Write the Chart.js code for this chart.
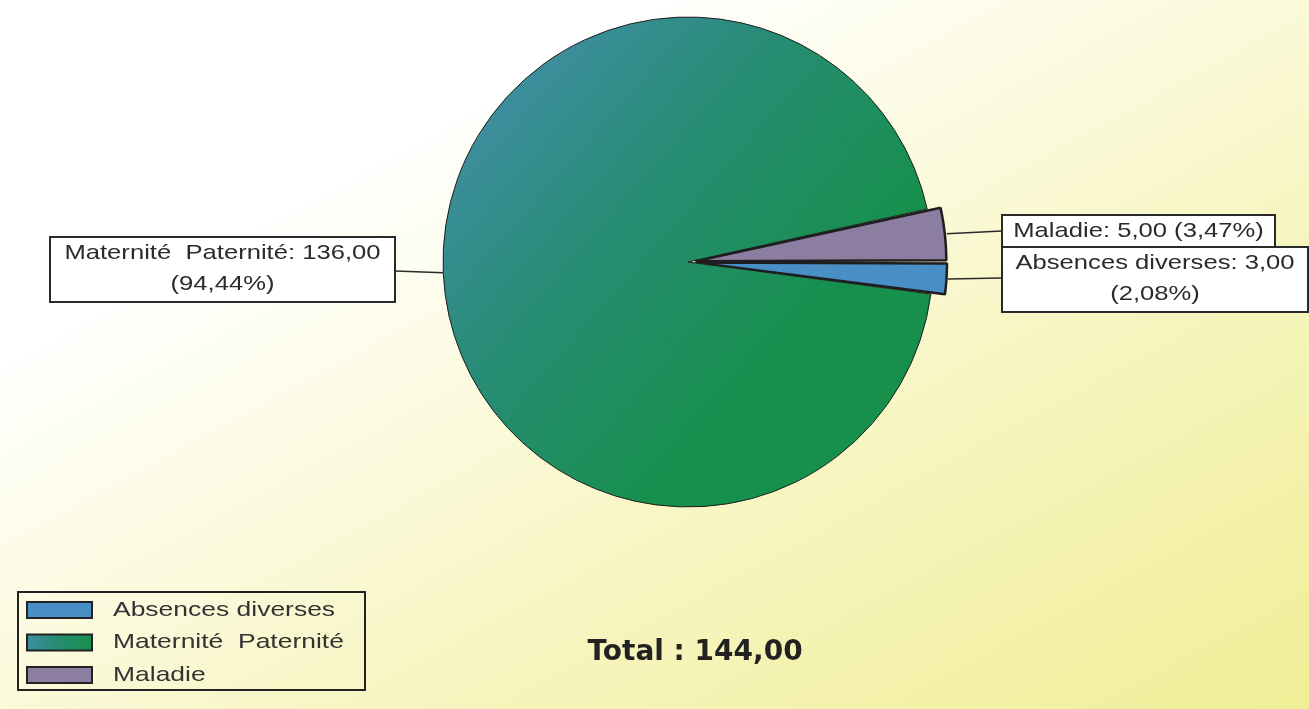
<!DOCTYPE html>
<html>
<head>
<meta charset="utf-8">
<script src="https://cdn.jsdelivr.net/npm/chart.js@4.4.0/dist/chart.umd.min.js"></script>
<style>
  html, body {
    margin: 0;
    padding: 0;
    width: 1309px;
    height: 709px;
    overflow: hidden;
    background: linear-gradient(to bottom right, #ffffff 0%, #ffffff 25%, #fbfadc 48%, #f7f5c0 65%, #f3f1a8 85%, #f0ee96 100%);
  }
  canvas { display: block; }
</style>
</head>
<body>
<canvas id="chart" width="1309" height="709"></canvas>
<script>
// data
const categories = ["Absences diverses", "Maternité  Paternité", "Maladie"];
const values = [3, 136, 5];
const sliceColors = ["#4a8ec6", null, "#8c7ea0"]; // null = gradient (teal -> green)

// text is a bit stretched horizontally in the original
const stretch = 1.22;
const legendStretch = 1.26;
const labelFont = '21px "Liberation Sans", Arial, sans-serif';

function fmt(n) {
  return n.toFixed(2).replace(".", ",");
}

const total = values.reduce((a, b) => a + b, 0);

// label boxes next to the pie (x, y, w, h, y of the leader line, which side)
const labelBoxes = [
  { x: 1002, y: 247, w: 306, h: 65, lineY: 278, side: "right", twoLines: true },
  { x: 50, y: 237, w: 345, h: 65, lineY: 271, side: "left", twoLines: true },
  { x: 1002, y: 215, w: 273, h: 32, lineY: 231, side: "right", twoLines: false },
];

function greenGradient(ctx, x0, y0, x1, y1) {
  const g = ctx.createLinearGradient(x0, y0, x1, y1);
  g.addColorStop(0, "#3f8ea2");
  g.addColorStop(0.45, "#278c74");
  g.addColorStop(1, "#16904b");
  return g;
}

function sliceColor(context) {
  const i = context.dataIndex;
  if (sliceColors[i]) return sliceColors[i];
  const chart = context.chart;
  const area = chart.chartArea;
  if (!area) return "#1f8c5c";
  const cx = (area.left + area.right) / 2;
  const cy = (area.top + area.bottom) / 2;
  const r = 245;
  return greenGradient(chart.ctx, cx - r, cy - 0.5 * r, cx + 0.25 * r, cy + 0.6 * r);
}

function stretchedText(ctx, text, x, y, s) {
  ctx.save();
  ctx.translate(x, y);
  ctx.scale(s || stretch, 1);
  ctx.fillText(text, 0, 0);
  ctx.restore();
}

// draws the value boxes, the leader lines, the legend and the total
const decorations = {
  id: "decorations",
  afterDatasetsDraw(chart) {
    const ctx = chart.ctx;
    const arcs = chart.getDatasetMeta(0).data;

    ctx.save();
    ctx.font = labelFont;
    ctx.textBaseline = "middle";
    ctx.textAlign = "center";

    arcs.forEach((arc, i) => {
      const p = arc.getProps(["x", "y", "startAngle", "endAngle", "outerRadius"]);
      const mid = (p.startAngle + p.endAngle) / 2;
      // chart.js v4 moves an exploded arc by offset / 4, start just outside the edge
      const off = (arc.options.offset || 0) / 4 + (arc.options.offset ? 8 : 0);
      const ox = p.x + Math.cos(mid) * (p.outerRadius + off);
      const oy = p.y + Math.sin(mid) * (p.outerRadius + off);
      const box = labelBoxes[i];

      // leader line
      ctx.strokeStyle = "#2a2a2a";
      ctx.lineWidth = 1.5;
      ctx.beginPath();
      ctx.moveTo(ox, oy);
      ctx.lineTo(box.side === "left" ? box.x + box.w : box.x, box.lineY);
      ctx.stroke();

      // box
      ctx.fillStyle = "#ffffff";
      ctx.fillRect(box.x, box.y, box.w, box.h);
      ctx.lineWidth = 2;
      ctx.strokeRect(box.x, box.y, box.w, box.h);

      // text
      const head = categories[i] + ": " + fmt(values[i]);
      const pct = "(" + fmt((values[i] / total) * 100) + "%)";
      const cx = box.x + box.w / 2;
      ctx.fillStyle = "#2b2b2b";
      if (box.twoLines) {
        stretchedText(ctx, head, cx, box.y + 16);
        stretchedText(ctx, pct, cx, box.y + 47);
      } else {
        stretchedText(ctx, head + " " + pct, cx, box.y + box.h / 2);
      }
    });

    // legend
    const lg = { x: 18, y: 592, w: 347, h: 98 };
    ctx.strokeStyle = "#222";
    ctx.lineWidth = 2;
    ctx.strokeRect(lg.x, lg.y, lg.w, lg.h);
    ctx.textAlign = "left";
    categories.forEach((name, i) => {
      const sy = 602 + i * 32.5;
      ctx.fillStyle = sliceColors[i] || greenGradient(ctx, 27, sy, 92, sy + 16);
      ctx.fillRect(27, sy, 65, 16);
      ctx.strokeStyle = "#222";
      ctx.lineWidth = 2;
      ctx.strokeRect(27, sy, 65, 16);
      ctx.fillStyle = "#333";
      stretchedText(ctx, name, 113, sy + 8, legendStretch);
    });

    // total
    ctx.textAlign = "center";
    ctx.fillStyle = "#222";
    ctx.font = 'bold 28px "DejaVu Sans", Verdana, sans-serif';
    ctx.fillText("Total : " + fmt(total), 695, 653);
    ctx.restore();
  },
};

const chart = new Chart(document.querySelector("#chart"), {
  type: "pie",
  data: {
    labels: categories,
    datasets: [
      {
        data: values,
        backgroundColor: sliceColor,
        borderColor: "#1e1e1e",
        borderWidth: [2.5, 1, 2.5],
        offset: [30, 0, 30],
      },
    ],
  },
  options: {
    responsive: false,
    animation: false,
    rotation: 90,
    radius: 245,
    layout: {
      padding: { left: 67, right: 0, top: 0, bottom: 185 },
    },
    plugins: {
      legend: { display: false },
      tooltip: { enabled: false },
    },
  },
  plugins: [decorations],
});
</script>
</body>
</html>
